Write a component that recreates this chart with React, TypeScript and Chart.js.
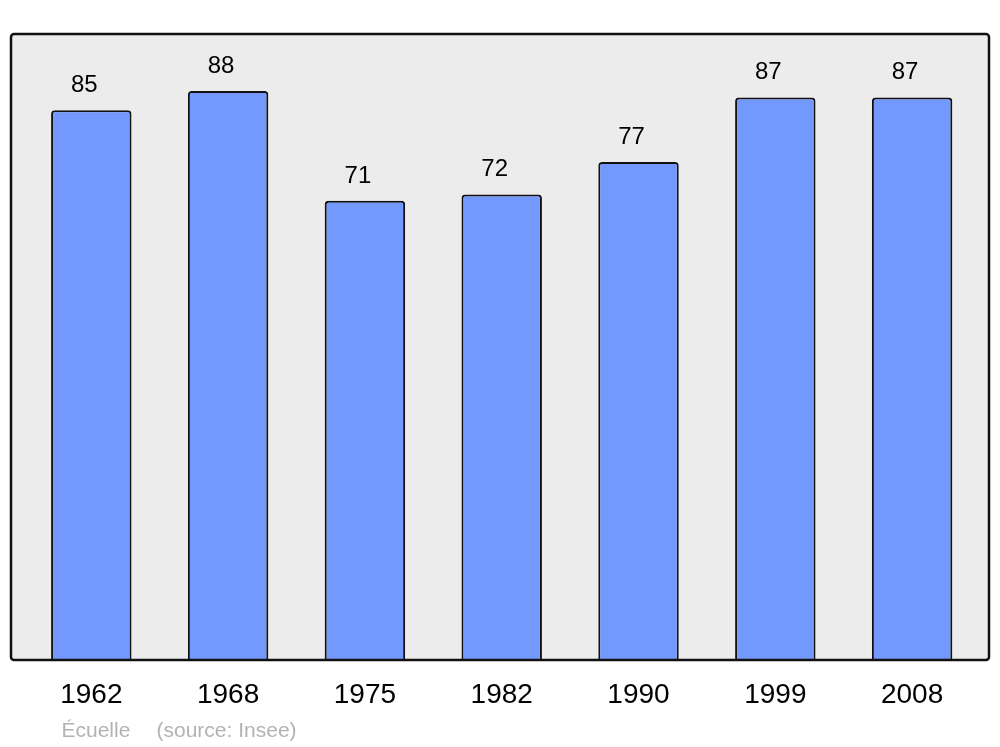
import React, { useEffect, useRef } from "react";
import { Chart, registerables } from "chart.js";

Chart.register(...registerables);

const years = ["1962", "1968", "1975", "1982", "1990", "1999", "2008"];
const population = [85, 88, 71, 72, 77, 87, 87];
const placeName = "Écuelle";
const sourceNote = "(source: Insee)";

const FONT = '"Liberation Sans", Arial, sans-serif';

export default function App() {
  const ref = useRef<HTMLCanvasElement | null>(null);

  useEffect(() => {
    if (!ref.current) return;

    const framePlugin = {
      id: "framePlugin",
      beforeDatasetsDraw(chart: any) {
        const { ctx, chartArea: a } = chart;
        ctx.save();
        ctx.fillStyle = "#ececec";
        ctx.beginPath();
        ctx.roundRect(a.left, a.top, a.right - a.left, a.bottom - a.top, 3);
        ctx.fill();
        ctx.restore();
      },
      afterDatasetsDraw(chart: any) {
        const { ctx, chartArea: a } = chart;
        ctx.save();
        ctx.strokeStyle = "#111111";
        ctx.lineWidth = 2.5;
        ctx.beginPath();
        ctx.roundRect(a.left, a.top, a.right - a.left, a.bottom - a.top, 3);
        ctx.stroke();

        const meta = chart.getDatasetMeta(0);
        ctx.fillStyle = "#000000";
        ctx.font = `24px ${FONT}`;
        ctx.textAlign = "center";
        ctx.textBaseline = "alphabetic";
        meta.data.forEach((bar: any, i: number) => {
          ctx.fillText(String(population[i]), bar.x - 7, bar.y - 18);
        });
        ctx.restore();
      },
      afterDraw(chart: any) {
        const { ctx } = chart;
        ctx.save();
        ctx.fillStyle = "#b3b3b3";
        ctx.font = `21px ${FONT}`;
        ctx.textAlign = "left";
        ctx.textBaseline = "alphabetic";
        ctx.fillText(placeName, 61.5, 737);
        ctx.fillText(sourceNote, 156.5, 737);
        ctx.restore();
      },
    };

    const chart = new Chart(ref.current, {
      type: "bar",
      data: {
        datasets: [
          {
            data: population.map((v, i) => ({ x: i, y: v })),
            backgroundColor: "#7399ff",
            borderColor: "#111111",
            borderWidth: 2,
            borderRadius: 3.5,
            barPercentage: 0.588,
            categoryPercentage: 1,
          },
        ],
      },
      options: {
        animation: false,
        responsive: false,
        devicePixelRatio: 1,
        layout: { padding: { left: 11, right: 11, top: 34, bottom: 0 } },
        plugins: {
          legend: { display: false },
          tooltip: { enabled: false },
        },
        scales: {
          x: {
            type: "linear",
            offset: false,
            min: -0.587,
            max: 6.562,
            afterBuildTicks: (scale: any) => {
              scale.ticks = years.map((_, i) => ({ value: i }));
            },
            afterFit: (scale: any) => {
              scale.height = 87;
            },
            grid: { display: false, drawTicks: false, offset: false },
            border: { display: false },
            ticks: {
              autoSkip: false,
              maxRotation: 0,
              padding: 18,
              color: "#000000",
              font: { size: 28, family: FONT },
              callback: (v: any) => years[v] ?? "",
            },
          },
          y: {
            display: false,
            min: 0,
            max: 96.8,
          },
        },
      },
      plugins: [framePlugin],
    });

    return () => chart.destroy();
  }, []);

  return (
    <div style={{ position: "fixed", left: 0, top: 0, width: 1000, height: 747, background: "#ffffff" }}>
      <canvas ref={ref} width={1000} height={747} style={{ width: 1000, height: 747, display: "block" }} />
    </div>
  );
}
